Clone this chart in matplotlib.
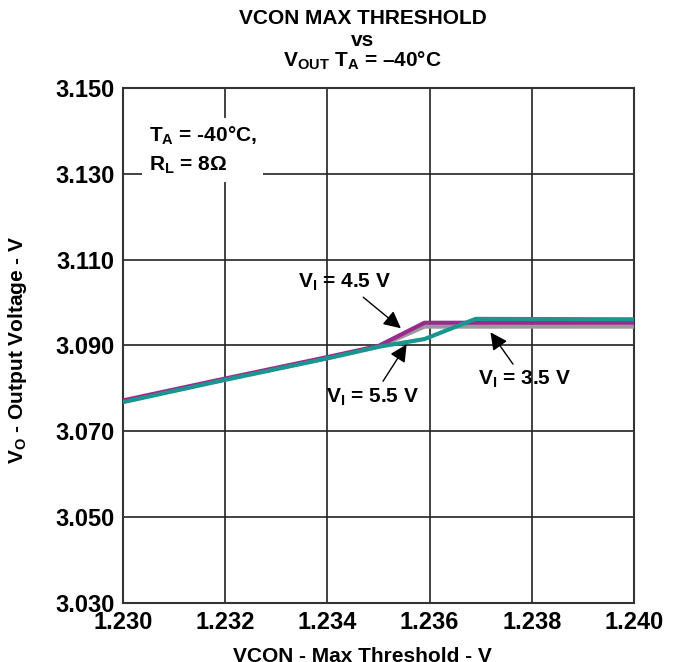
import matplotlib.pyplot as plt

plt.rcParams['font.family'] = ['Liberation Sans', 'DejaVu Sans']
plt.rcParams['font.weight'] = 'bold'
plt.rcParams['mathtext.fontset'] = 'custom'
plt.rcParams['mathtext.rm'] = 'Liberation Sans:bold'
plt.rcParams['mathtext.it'] = 'Liberation Sans:bold'
plt.rcParams['mathtext.bf'] = 'Liberation Sans:bold'

# datos
x_35 = [1.230, 1.232, 1.234, 1.235, 1.2359, 1.240]
y_35 = [3.0770, 3.0821, 3.0871, 3.0897, 3.0944, 3.0944]

x_45 = [1.230, 1.232, 1.234, 1.235, 1.2359, 1.240]
y_45 = [3.0772, 3.0823, 3.0873, 3.0899, 3.0953, 3.0953]

x_55 = [1.230, 1.232, 1.234, 1.235, 1.2359, 1.2369, 1.240]
y_55 = [3.0768, 3.0820, 3.0870, 3.0897, 3.0915, 3.0962, 3.0961]

xticks = [1.230, 1.232, 1.234, 1.236, 1.238, 1.240]
yticks = [3.030, 3.050, 3.070, 3.090, 3.110, 3.130, 3.150]

fig = plt.figure(figsize=(6.78, 6.62), dpi=100)
ax = fig.add_axes([0.1814, 0.0891, 0.7537, 0.778])

ax.plot(x_35, y_35, color='#9a9a9a', lw=3, zorder=3, solid_capstyle='butt')
ax.plot(x_45, y_45, color='#9b2a8f', lw=3, zorder=4, solid_capstyle='butt')
ax.plot(x_55, y_55, color='#1a968f', lw=3, zorder=5, solid_capstyle='butt')

ax.set_xlim(1.230, 1.240)
ax.set_ylim(3.030, 3.150)
ax.set_xticks(xticks)
ax.set_yticks(yticks)
ax.set_xticklabels([f"{v:.3f}" for v in xticks], fontsize=17, fontweight='bold')
ax.set_yticklabels([f"{v:.3f}" for v in yticks], fontsize=17, fontweight='bold')
ax.tick_params(length=0, pad=6)
ax.grid(True, color='#222222', lw=1.2)
for s in ax.spines.values():
    s.set_color('#333333')
    s.set_linewidth(1.5)

# cuadro de condiciones
ax.text(1.2305, 3.1355, 'T$_{A}$ = -40°C,\nR$_{L}$ = 8Ω', fontsize=15, fontweight='bold',
        ha='left', va='center', linespacing=1.45, zorder=6,
        bbox=dict(facecolor='white', edgecolor='none', pad=5))

arrow = dict(arrowstyle='-|>', color='black', lw=1, mutation_scale=26)
ax.annotate('V$_{I}$ = 4.5 V', xy=(1.23548, 3.0936), xytext=(1.23434, 3.1048),
            fontsize=15, ha='center', va='center', arrowprops=arrow, zorder=7)
ax.annotate('V$_{I}$ = 5.5 V', xy=(1.23558, 3.0908), xytext=(1.23489, 3.0780),
            fontsize=15, ha='center', va='center', arrowprops=arrow, zorder=7)
ax.annotate('V$_{I}$ = 3.5 V', xy=(1.23716, 3.0936), xytext=(1.23785, 3.0820),
            fontsize=15, ha='center', va='center', arrowprops=arrow, zorder=7)

fig.text(0.535, 1 - 18 / 662, 'VCON MAX THRESHOLD', ha='center', va='center', fontsize=15)
fig.text(0.535, 1 - 40 / 662, 'vs', ha='center', va='center', fontsize=15)
fig.text(0.535, 1 - 61 / 662, 'V$_{OUT}$ T$_{A}$ = –40°C', ha='center', va='center', fontsize=15)

fig.text(0.535, 1 - 657 / 662, 'VCON - Max Threshold - V', ha='center', va='center', fontsize=15)
fig.text(18 / 678, 1 - 350 / 662, 'V$_{O}$ - Output Voltage - V', ha='center', va='center',
         rotation=90, fontsize=15)

plt.savefig('out.png', dpi=100)
